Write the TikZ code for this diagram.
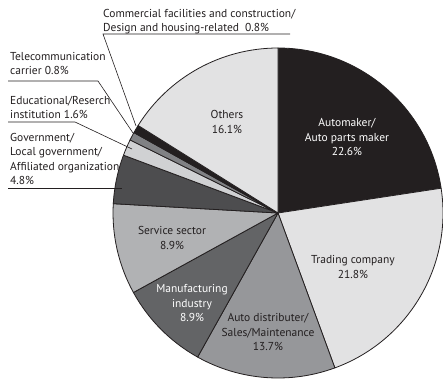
\documentclass[tikz,border=0pt]{standalone}
\usepackage{fontspec}
\setmainfont{PT Sans}
\begin{document}
\begin{tikzpicture}[x=1pt,y=1pt,
  lbl/.style={inner sep=0pt, align=center, text=ink, font=\fontsize{11.5}{14.5}\selectfont},
  lft/.style={inner sep=0pt, align=left, anchor=north west, text=ink, font=\fontsize{11.5}{14.5}\selectfont},
  wedge/.style={draw=ink, line width=0.8pt, line join=round},
  leader/.style={draw=ink, line width=0.6pt}]
\definecolor{ink}{HTML}{231F20}
\definecolor{cAuto}{HTML}{231F20}
\definecolor{cTrade}{HTML}{E2E2E3}
\definecolor{cDist}{HTML}{96979A}
\definecolor{cManu}{HTML}{636466}
\definecolor{cServ}{HTML}{B1B2B4}
\definecolor{cGov}{HTML}{4D4D4F}
\definecolor{cEdu}{HTML}{D0D1D3}
\definecolor{cTel}{HTML}{808184}
\definecolor{cCom}{HTML}{231F20}
\definecolor{cOth}{HTML}{E2E2E3}
\useasboundingbox (0,0) rectangle (443,381);
\coordinate (C) at (278,168);
\def\R{165pt}
\foreach \a/\b/\c in {90/8.64/cAuto, 8.64/-69.84/cTrade, -69.84/-119.16/cDist,
  -119.16/-151.2/cManu, -151.2/-183.24/cServ, -183.24/-200.52/cGov,
  -200.52/-206.28/cEdu, -206.28/-209.16/cTel, -209.16/-212.04/cCom, -212.04/-270/cOth}
  \filldraw[wedge, fill=\c] (C) -- ++(\a:\R) arc[start angle=\a, end angle=\b, radius=\R] -- cycle;
% inner labels
\node[lbl, text=white] (auto) at (347,244) {Automaker/\\Auto parts maker\\22.6\%};
\node[lbl] (trade) at (353,114) {Trading company\\21.8\%};
\node[lbl] (dist) at (268,49) {Auto distributer/\\Sales/Maintenance\\13.7\%};
\node[lbl, text=white] (manu) at (192,78) {Manufacturing\\industry\\8.9\%};
\node[lbl] (serv) at (172,143) {Service sector\\8.9\%};
\node[lbl] (oth) at (227,259) {Others\\16.1\%};
% outer labels
\node[lft] (com) at (103,372) {Commercial facilities and construction/\\Design and housing-related\ \ 0.8\%};
\node[lft] (tel) at (10,329) {Telecommunication\\carrier 0.8\%};
\node[lft] (edu) at (10,285) {Educational/Reserch\\institution 1.6\%};
\node[lft] (gov) at (10,248) {Government/\\Local government/\\Affiliated organization\\4.8\%};
% leader coordinates
\coordinate (comA) at (290,347);
\coordinate (comB) at (103,347);
\coordinate (comT) at (136,255);
\coordinate (telA) at (8,300);
\coordinate (telB) at (98,300);
\coordinate (telT) at (133,248);
\coordinate (eduA) at (8,259);
\coordinate (eduB) at (75,259);
\coordinate (eduT) at (132,232);
\coordinate (govA) at (8,193);
\coordinate (govT) at (122,193);
\draw[leader] (comA) -- (comB) -- (comT);
\draw[leader] (telA) -- (telB) -- (telT);
\draw[leader] (eduA) -- (eduB) -- (eduT);
\draw[leader] (govA) -- (govT);
\end{tikzpicture}
\end{document}
